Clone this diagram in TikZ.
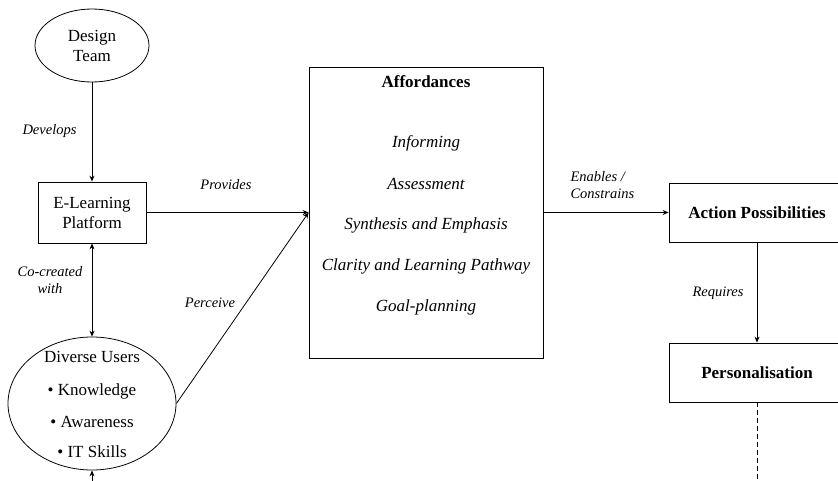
\documentclass[tikz,border=0pt]{standalone}
\usepackage{fontspec}
\setmainfont{Liberation Serif}
\usetikzlibrary{shapes,arrows.meta,positioning,calc}
\tikzstyle{actor} = [ellipse, draw=black, line width=0.8pt, inner sep=0pt]
\tikzstyle{block} = [rectangle, draw=black, line width=0.8pt, inner sep=0pt]
\tikzstyle{body} = [font=\fontsize{17}{20}\selectfont, align=center]
\tikzstyle{bodybold} = [font=\fontsize{17}{20}\selectfont\bfseries, align=center]
\tikzstyle{bodyit} = [font=\fontsize{17}{20}\selectfont\itshape, align=center]
\tikzstyle{relation} = [font=\fontsize{14.5}{16.5}\selectfont\itshape, align=center]
\tikzstyle{arrow} = [line width=0.8pt, ->, >={Stealth[length=6pt,width=5pt]}]
\tikzstyle{biarrow} = [line width=0.8pt, <->, >={Stealth[length=6pt,width=5pt]}]
\tikzstyle{dashline} = [line width=0.8pt, dash pattern=on 5pt off 3pt]

\begin{document}
\begin{tikzpicture}[x=1pt, y=-1pt]

\useasboundingbox (0,0) rectangle (838,480);
\clip (0,0) rectangle (838,480);

% LINKE SPALTE
\node (team) [actor, body, minimum width=114pt, minimum height=73pt] at (92,45.5) {Design\\Team};
\node (platform) [block, body, minimum width=108pt, minimum height=61pt] at (92,212.5) {E-Learning\\Platform};
\node (users) [actor, minimum width=168pt, minimum height=133pt] at (92,403.5) {};
\node (usershead) [body] at (92,357) {Diverse Users};
\node (knowledge) [body] at (92,391) {• Knowledge};
\node (awareness) [body] at (92,422) {• Awareness};
\node (itskills) [body] at (92,452) {• IT Skills};
\coordinate (usersin) at (92,490);

% AFFORDANCES
\node (afford) [block, minimum width=234pt, minimum height=291pt] at (426,212.5) {};
\node (affordtitle) [bodybold] at (426,82) {Affordances};
\node (informing) [bodyit] at (426,143) {Informing};
\node (assessment) [bodyit] at (426,184) {Assessment};
\node (synthesis) [bodyit] at (426,225) {Synthesis and Emphasis};
\node (clarity) [bodyit] at (426,266) {Clarity and Learning Pathway};
\node (goal) [bodyit] at (426,307) {Goal-planning};

% RECHTE SPALTE
\node (action) [block, bodybold, minimum width=176pt, minimum height=59pt] at (757,212.5) {Action Possibilities};
\node (pers) [block, bodybold, minimum width=176pt, minimum height=59pt] at (757,372.5) {Personalisation};
\coordinate (persout) at (757,490);

% PFEILE
\draw [arrow] (team) -- (platform);
\draw [arrow] (platform) -- (afford.west);
\draw [biarrow] (platform) -- (users);
\draw [arrow] (users.east) -- (afford.west);
\draw [arrow] (afford) -- (action);
\draw [arrow] (action) -- (pers);
\draw [dashline] (pers) -- (persout);
\draw [arrow] (usersin) -- (users);

% Beschriftung
\node (develops) [relation] at (49.5,131) {Develops};
\node (provides) [relation] at (226,185) {Provides};
\node (cocreated) [relation] at (50,280) {Co-created\\with};
\node (perceive) [relation] at (210,303) {Perceive};
\node (enables) [relation, align=left, anchor=west] at (567,185) {Enables /\\Constrains};
\node (requires) [relation] at (718,293) {Requires};

\end{tikzpicture}
\end{document}
